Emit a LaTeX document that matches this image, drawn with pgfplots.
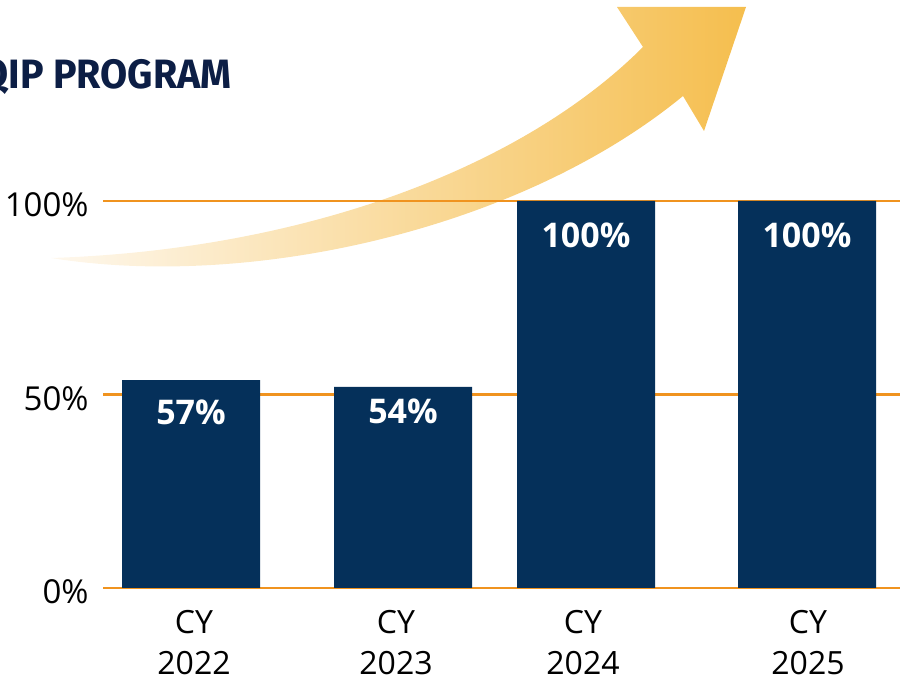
\documentclass[border=0pt]{standalone}
\usepackage{pgfplots}
\pgfplotsset{compat=1.18}
\usepackage{fontspec}
\setmainfont{Open Sans}
\newfontfamily\titlefont[FakeStretch=0.96]{Fira Sans}
\definecolor{navy}{HTML}{05305A}
\definecolor{gridorange}{HTML}{F0931F}
\definecolor{titlec}{HTML}{0C1E45}
\definecolor{arrowL}{HTML}{FEF8EE}
\definecolor{arrowR}{HTML}{F5BE4E}
\begin{document}
\begin{tikzpicture}
\useasboundingbox (0,0) rectangle (450pt,340pt);
\clip (0,0) rectangle (450pt,340pt);
\begin{scope}[x=0.5pt,y=-0.5pt,shift={(0pt,340pt)}]
\shade[left color=arrowL, right color=arrowR]
  (51,258) .. controls (300,250) and (520,170) .. (643,47)
  -- (617,7) -- (746,7) -- (704,131) -- (683,96)
  .. controls (520,230) and (250,290) .. (51,258) -- cycle;
\node[anchor=base east, inner sep=0pt, text=titlec,
      font=\titlefont\bfseries\fontsize{20.5}{24}\selectfont] at (232,89) {QIP PROGRAM};
\end{scope}
\begin{axis}[
  at={(51.5pt,46pt)}, anchor=south west,
  width=398.5pt, height=193.5pt, scale only axis,
  xmin=103, xmax=900, ymin=0, ymax=100,
  clip=false,
  axis line style={draw=none},
  major tick length=0pt,
  ytick={0,50,100},
  yticklabels={0\%,50\%,100\%},
  yticklabel style={anchor=east, inner sep=0pt, xshift=-7pt, yshift=-2pt,
     font=\fontsize{16.5}{20}\selectfont, text=black},
  xtick={194,396,583,808},
  xticklabels={CY\\2022,CY\\2023,CY\\2024,CY\\2025},
  xticklabel style={anchor=north, align=center, inner sep=0pt, yshift=-11pt,
     font=\fontsize{16}{20.5}\selectfont, text=black},
  ymajorgrids,
  grid style={color=gridorange, line width=1.25pt},
]
\addplot[ybar, bar width=138, fill=navy, draw=none,
  point meta=explicit symbolic,
  visualization depends on={\thisrow{dy} \as \labdy},
  nodes near coords={\pgfplotspointmeta\%},
  nodes near coords style={anchor=center, yshift=\labdy pt, text=white,
     font=\bfseries\fontsize{17}{20}\selectfont}]
  table[x=x, y=y, meta=lab] {
x   y     lab  dy
191 53.7  57   -16
403 52.0  54   -12.5
586 100   100  -17
807 100   100  -17
};
\end{axis}
\end{tikzpicture}
\end{document}
